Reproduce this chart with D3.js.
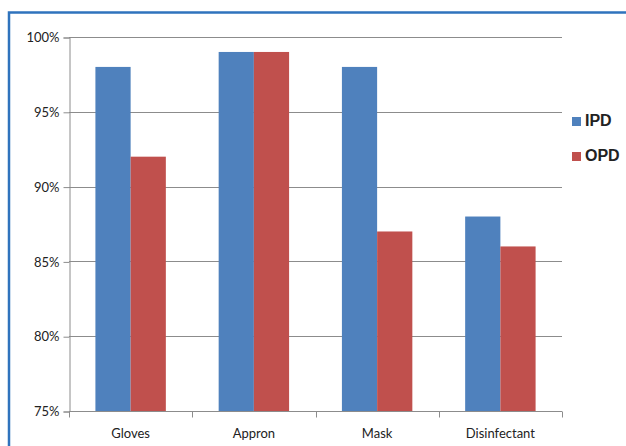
<!DOCTYPE html>
<html>
<head>
<meta charset="utf-8">
<script src="https://cdn.jsdelivr.net/npm/d3@7"></script>
<style>
  html, body { margin: 0; padding: 0; background: #fff; }
  svg { display: block; }
  text { font-family: Lato, "Open Sans", "Liberation Sans", sans-serif; fill: #222; }
</style>
</head>
<body>
<svg id="chart" width="626" height="446"></svg>
<script>
// Protective equipment usage by department
const categories = ["Gloves", "Appron", "Mask", "Disinfectant"];
const seriesNames = ["IPD", "OPD"];
const ipdValues = [98, 99, 98, 88];
const opdValues = [92, 99, 87, 86];
const yTicks = [75, 80, 85, 90, 95, 100];
const colors = ["#4F81BD", "#C0504D"];

const svg = d3.select("#chart");

// outer frame
svg.append("rect")
  .attr("x", 9).attr("y", 12.5)
  .attr("width", 640).attr("height", 460)
  .attr("fill", "none")
  .attr("stroke", "#2F73BD")
  .attr("stroke-width", 2.5);

const plot = { left: 69, right: 562, top: 37, bottom: 411 };

const x = d3.scaleBand()
  .domain(categories)
  .range([plot.left, plot.right])
  .paddingInner(0)
  .paddingOuter(0);

const inner = d3.scaleBand()
  .domain(seriesNames)
  .range([0, x.bandwidth()])
  .paddingOuter(0.75)
  .paddingInner(0);

const y = d3.scaleLinear()
  .domain([75, 100])
  .range([plot.bottom, plot.top]);

// gridlines
svg.append("g")
  .selectAll("line")
  .data(yTicks.filter(t => t !== 75))
  .join("line")
  .attr("x1", plot.left).attr("x2", plot.right)
  .attr("y1", d => Math.round(y(d)) + 0.5)
  .attr("y2", d => Math.round(y(d)) + 0.5)
  .attr("stroke", "#8C8C8C")
  .attr("stroke-width", 1);

// bars
const rows = categories.map((c, i) => ({ cat: c, vals: [ipdValues[i], opdValues[i]] }));
svg.append("g")
  .selectAll("g")
  .data(rows)
  .join("g")
  .attr("transform", d => `translate(${x(d.cat)},0)`)
  .selectAll("rect")
  .data(d => d.vals.map((v, k) => ({ s: seriesNames[k], v, k })))
  .join("rect")
  .attr("x", d => inner(d.s))
  .attr("width", inner.bandwidth())
  .attr("y", d => y(d.v))
  .attr("height", d => y(75) - y(d.v))
  .attr("fill", d => colors[d.k]);

// y axis
const yAxis = d3.axisLeft(y)
  .tickValues(yTicks)
  .tickFormat(d => d + "%")
  .tickSize(6)
  .tickPadding(4);
const gy = svg.append("g")
  .attr("transform", `translate(${plot.left + 0.5},0.5)`)
  .call(yAxis);
gy.select(".domain").attr("stroke", "#8C8C8C");
gy.selectAll(".tick line").attr("stroke", "#8C8C8C");
gy.selectAll(".tick text").style("font-size", "13px").attr("fill", "#222");

// x axis: ticks at category boundaries
const gx = svg.append("g")
  .attr("transform", `translate(0,${plot.bottom + 0.5})`);
gx.append("line")
  .attr("x1", plot.left).attr("x2", plot.right)
  .attr("stroke", "#8C8C8C");
gx.selectAll("line.tk")
  .data(categories.map(c => x(c)).concat([plot.right]))
  .join("line")
  .attr("class", "tk")
  .attr("x1", d => Math.round(d) + 0.5).attr("x2", d => Math.round(d) + 0.5)
  .attr("y1", 0).attr("y2", 6)
  .attr("stroke", "#8C8C8C");
gx.selectAll("text")
  .data(categories)
  .join("text")
  .attr("x", d => x(d) + x.bandwidth() / 2)
  .attr("y", 26)
  .attr("text-anchor", "middle")
  .style("font-size", "13px")
  .text(d => d);

// legend
const legend = svg.append("g");
seriesNames.forEach((name, i) => {
  const base = 126 + i * 35;
  legend.append("rect")
    .attr("x", 572).attr("y", base - 9)
    .attr("width", 9).attr("height", 9)
    .attr("fill", colors[i]);
  legend.append("text")
    .attr("x", 585).attr("y", base)
    .style("font-family", "'Liberation Sans', Arial, sans-serif")
    .style("font-size", "16px")
    .style("font-weight", "bold")
    .attr("fill", "#000")
    .text(name);
});
</script>
</body>
</html>
